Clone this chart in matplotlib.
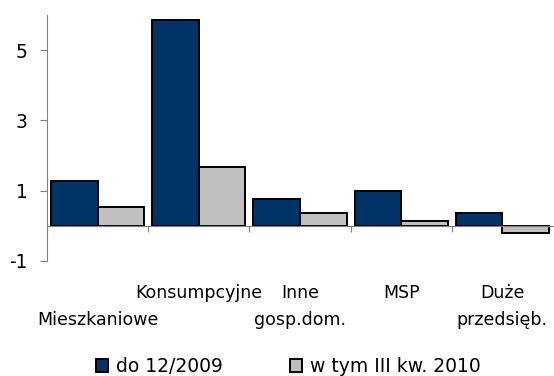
"""
Loan growth by category: to 12/2009 vs. of which Q3 2010.
"""

import numpy as np
import matplotlib.pyplot as plt
from matplotlib.transforms import blended_transform_factory

categories = ["Mieszkaniowe", "Konsumpcyjne", "Inne\ngosp.dom.", "MSP", "Duże\nprzedsięb."]
do_2009 = [1.27, 5.86, 0.76, 0.98, 0.36]
w_tym_q3_2010 = [0.53, 1.68, 0.36, 0.14, -0.21]

# first label row of each category (Excel staggered the first one down)
label_row = [1, 0, 0, 0, 0]

plt.rcParams["font.family"] = "DejaVu Sans"
plt.rcParams["axes.unicode_minus"] = False

fig = plt.figure(figsize=(5.54, 3.76), dpi=100)
ax = fig.add_axes([0.085, 0.306, 0.913, 0.654])

x = np.arange(len(categories))
w = 0.46
b1 = ax.bar(x - w / 2, do_2009, w, color="#003366", edgecolor="black",
            linewidth=1.4, label="do 12/2009")
b2 = ax.bar(x + w / 2, w_tym_q3_2010, w, color="#C0C0C0", edgecolor="black",
            linewidth=1.4, label="w tym III kw. 2010")

ax.set_xlim(-0.5, len(categories) - 0.5)
ax.set_ylim(-1, 6)
ax.set_yticks([-1, 1, 3, 5])
ax.tick_params(axis="y", labelsize=13.5, length=5, color="#808080", pad=9)

ax.spines["top"].set_visible(False)
ax.spines["right"].set_visible(False)
ax.spines["left"].set_color("#808080")
ax.spines["bottom"].set_position(("data", 0))
ax.spines["bottom"].set_color("#808080")

ax.set_xticks(x[:-1] + 0.5)
ax.set_xticklabels([])
ax.tick_params(axis="x", length=4, color="#808080", direction="out")

# category labels below the plot
trans = blended_transform_factory(ax.transData, fig.transFigure)
for i, name in enumerate(categories):
    for j, line in enumerate(name.split("\n")):
        row = label_row[i] + j
        ax.text(i, (376 - 293 - row * 27) / 376, line,
                transform=trans, ha="center", va="center", fontsize=12.5)

fig.legend(handles=[b1, b2], loc="center", bbox_to_anchor=(0.52, 0.025), ncol=2,
           frameon=False, fontsize=13.5, handlelength=0.65, handleheight=0.65,
           handletextpad=0.4, columnspacing=3.6)

plt.savefig("out.png", dpi=100)
